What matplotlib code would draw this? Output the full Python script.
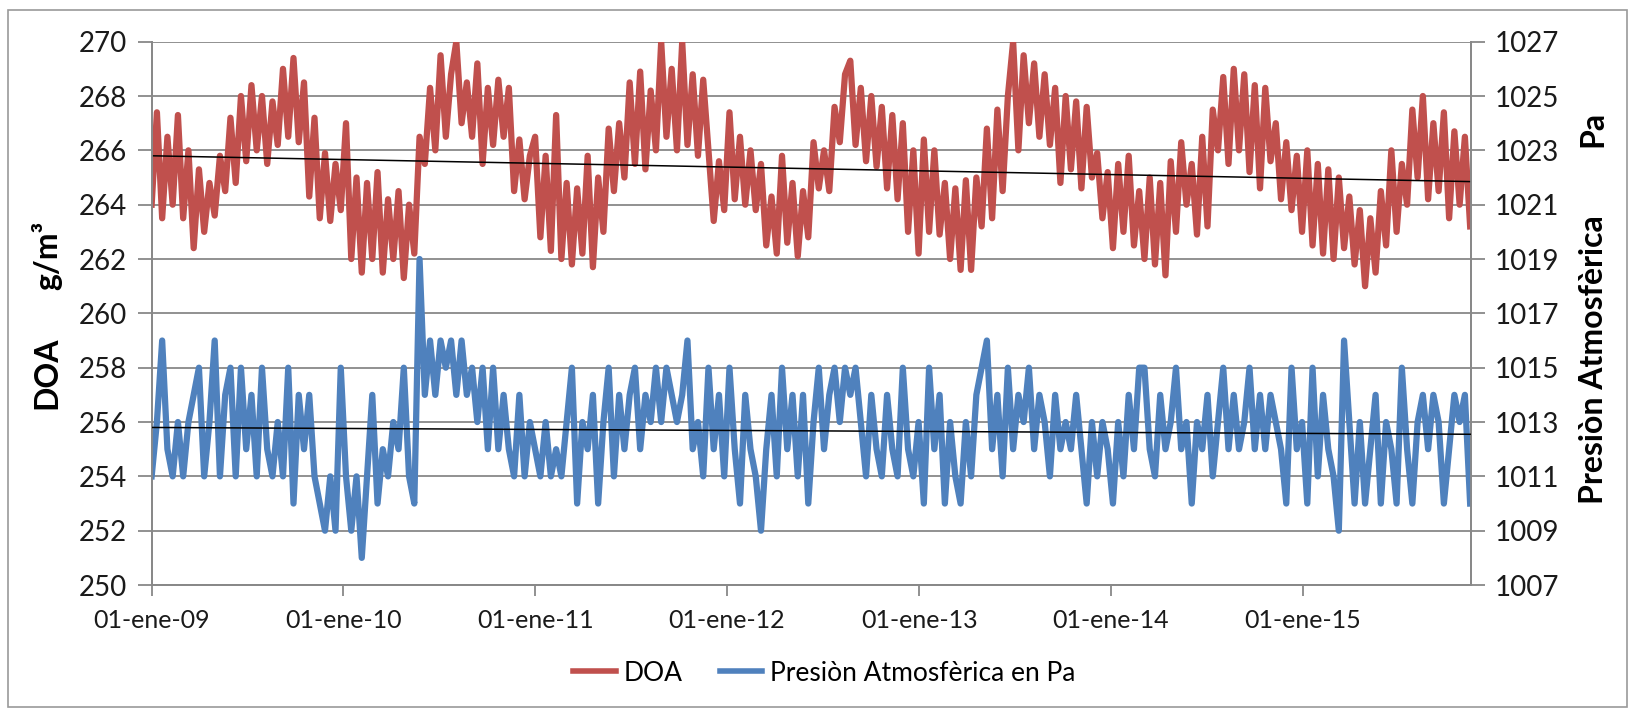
import matplotlib
matplotlib.use("Agg")
import matplotlib.pyplot as plt
import matplotlib.patches as mpatches
import numpy as np
import pandas as pd

plt.rcParams['font.family'] = ['Lato', 'DejaVu Sans']

# ─── datos (muestras cada 10 días) ───
doa_2009 = [264.0, 267.4, 263.5, 266.5, 264.0, 267.3, 263.5, 266.0, 262.4, 265.3, 263.0, 264.8,
            263.6, 265.8, 264.5, 267.2, 264.8, 268.0, 265.6, 268.4, 266.0, 268.0, 265.5, 267.8,
            266.2, 269.0, 266.5, 269.4, 266.3, 268.5, 264.3, 267.2, 263.5, 265.9, 263.4, 265.5, 263.8]
doa_2010 = [267.0, 262.0, 265.0, 261.5, 264.8, 262.0, 265.2, 261.5, 264.2, 262.0, 264.5, 261.3,
            264.0, 262.2, 266.5, 265.5, 268.3, 266.0, 269.5, 266.5, 268.8, 270.0, 267.0, 268.5,
            266.5, 269.2, 265.5, 268.3, 266.2, 268.6, 266.5, 268.3, 264.5, 266.4, 264.2, 265.8]
doa_2011 = [266.5, 262.8, 265.8, 262.3, 267.3, 262.0, 264.8, 261.8, 264.6, 262.2, 265.8, 261.7,
            265.0, 263.0, 266.8, 264.5, 267.0, 265.0, 268.5, 265.5, 268.9, 265.3, 268.2, 266.0,
            270.0, 266.5, 269.0, 266.0, 270.0, 266.2, 268.8, 265.8, 268.6, 266.0, 263.4, 265.6, 263.8]
doa_2012 = [267.4, 264.2, 266.5, 264.0, 266.0, 263.8, 265.5, 262.5, 264.3, 262.2, 265.8, 262.6,
            264.8, 262.1, 264.5, 262.8, 266.3, 264.6, 266.0, 264.5, 267.6, 266.3, 268.8, 269.3,
            266.2, 268.3, 265.6, 268.0, 265.4, 267.6, 264.6, 267.3, 264.2, 267.0, 263.0, 266.0, 262.2]
doa_2013 = [266.4, 263.0, 266.0, 262.9, 264.8, 262.0, 264.6, 261.6, 264.9, 261.6, 265.0, 263.2,
            266.8, 263.5, 267.5, 264.5, 268.0, 270.0, 266.0, 269.5, 267.0, 269.2, 266.5, 268.8,
            266.2, 268.3, 264.8, 268.0, 265.3, 267.8, 264.6, 267.6, 265.0, 265.9, 263.5, 265.2]
doa_2014 = [262.4, 265.5, 263.0, 265.8, 262.5, 264.5, 262.0, 265.0, 261.8, 264.8, 261.4, 265.6,
            263.0, 266.3, 264.0, 265.5, 262.9, 266.5, 263.2, 267.5, 266.0, 268.7, 265.5, 269.0,
            266.0, 268.8, 265.2, 268.4, 264.6, 268.3, 265.6, 267.0, 264.2, 266.3, 263.8, 265.8]
doa_2015 = [263.0, 266.0, 262.5, 265.5, 262.2, 265.3, 262.0, 265.0, 262.4, 264.3, 261.8, 263.8,
            261.0, 263.5, 261.5, 264.5, 262.5, 266.0, 263.0, 265.5, 264.0, 267.5, 265.0, 268.0,
            264.2, 267.0, 264.5, 267.4, 263.5, 266.7, 264.0, 266.5, 263.2]

pres_2009 = [1011, 1013, 1016, 1012, 1011, 1013, 1011, 1013, 1014, 1015, 1011, 1013, 1016, 1011,
             1014, 1015, 1011, 1015, 1012, 1014, 1011, 1015, 1012, 1011, 1013, 1011, 1015, 1010,
             1014, 1012, 1014, 1011, 1010, 1009, 1011, 1009, 1015]
pres_2010 = [1011, 1009, 1011, 1008, 1011, 1014, 1010, 1012, 1011, 1013, 1012, 1015, 1011, 1010,
             1019, 1014, 1016, 1014, 1016, 1015, 1016, 1014, 1016, 1014, 1015, 1013, 1015, 1012,
             1015, 1012, 1014, 1012, 1011, 1014, 1011, 1013]
pres_2011 = [1012, 1011, 1013, 1011, 1012, 1011, 1013, 1015, 1010, 1013, 1012, 1014, 1010, 1013,
             1015, 1011, 1014, 1012, 1014, 1015, 1012, 1014, 1013, 1015, 1013, 1015, 1014, 1013,
             1014, 1016, 1012, 1013, 1011, 1015, 1012, 1014, 1011]
pres_2012 = [1015, 1012, 1010, 1014, 1012, 1011, 1009, 1012, 1014, 1011, 1015, 1012, 1014, 1011,
             1014, 1010, 1013, 1015, 1012, 1014, 1015, 1013, 1015, 1014, 1015, 1013, 1011, 1014,
             1012, 1011, 1014, 1012, 1011, 1015, 1012, 1011, 1013]
pres_2013 = [1010, 1015, 1012, 1014, 1010, 1013, 1011, 1010, 1013, 1011, 1014, 1015, 1016, 1012,
             1014, 1011, 1015, 1012, 1014, 1013, 1015, 1012, 1014, 1013, 1011, 1014, 1012, 1013,
             1012, 1014, 1012, 1010, 1013, 1011, 1013, 1012]
pres_2014 = [1010, 1013, 1011, 1014, 1012, 1015, 1015, 1012, 1011, 1014, 1012, 1013, 1015, 1012,
             1013, 1010, 1013, 1012, 1014, 1011, 1013, 1015, 1012, 1014, 1012, 1013, 1015, 1012,
             1014, 1012, 1014, 1013, 1012, 1010, 1015, 1012]
pres_2015 = [1013, 1010, 1015, 1011, 1014, 1012, 1011, 1009, 1016, 1013, 1010, 1013, 1010, 1012,
             1014, 1010, 1013, 1012, 1010, 1015, 1012, 1010, 1013, 1014, 1012, 1014, 1013, 1010,
             1012, 1014, 1013, 1014, 1010]

# líneas de tendencia (valor al inicio y al final)
trend_doa = [265.8, 264.85]
trend_pres = [1012.8, 1012.55]

xtick_dates = ['2009-01-01', '2010-01-01', '2011-01-01', '2012-01-01',
               '2013-01-01', '2014-01-01', '2015-01-01']
xtick_labels = ['01-ene-09', '01-ene-10', '01-ene-11', '01-ene-12',
                '01-ene-13', '01-ene-14', '01-ene-15']

doa = np.concatenate([doa_2009, doa_2010, doa_2011, doa_2012, doa_2013, doa_2014, doa_2015])
pres = np.concatenate([pres_2009, pres_2010, pres_2011, pres_2012, pres_2013, pres_2014, pres_2015])
dates = pd.date_range('2009-01-01', periods=len(doa), freq='10D')
x_end = pd.Timestamp('2015-11-17')

RED = '#C0504D'
BLUE = '#4F81BD'
GRID = '#888888'

fig = plt.figure(figsize=(16.29, 7.10), dpi=100)
ax = fig.add_axes([0.0931, 0.176, 0.8097, 0.7653])
ax2 = ax.twinx()

l_red, = ax.plot(dates, doa, color=RED, lw=4.5, zorder=2)
ax.plot([dates[0], x_end], trend_doa, color='black', lw=1.1, zorder=3)
l_blue, = ax2.plot(dates, pres, color=BLUE, lw=4.5, zorder=2)
ax2.plot([dates[0], x_end], trend_pres, color='black', lw=1.1, zorder=3)

ax.set_xlim(pd.Timestamp('2009-01-01'), x_end)
ax.set_ylim(250, 270)
ax.set_yticks(np.arange(250, 271, 2))
ax2.set_ylim(1007, 1027)
ax2.set_yticks(np.arange(1007, 1028, 2))
ax.set_xticks(pd.to_datetime(xtick_dates))
ax.set_xticklabels(xtick_labels)

ax.set_axisbelow(True)
ax.yaxis.grid(True, color=GRID, lw=1.3)
for a in (ax, ax2):
    for s in a.spines.values():
        s.set_color(GRID)
        s.set_linewidth(1.3)
ax.spines['top'].set_visible(False)
ax2.spines['top'].set_visible(False)

ax.tick_params(axis='y', length=10, width=1.3, color=GRID, labelsize=20, pad=8, labelcolor='#1a1a1a')
ax2.tick_params(axis='y', length=10, width=1.3, color=GRID, labelsize=20, pad=7, labelcolor='#1a1a1a')
ax.tick_params(axis='x', length=8, width=1.3, color=GRID, labelsize=18, pad=9, labelcolor='#1a1a1a')

fig.text(0.029, 0.475, 'DOA', rotation=90, fontsize=23, fontweight='bold', ha='center', va='center')
fig.text(0.029, 0.64, 'g/m³', rotation=90, fontsize=23, fontweight='bold', ha='center', va='center')
fig.text(0.978, 0.493, 'Presiòn Atmosfèrica', rotation=90, fontsize=23, fontweight='bold', ha='center', va='center')
fig.text(0.978, 0.818, 'Pa', rotation=90, fontsize=23, fontweight='bold', ha='center', va='center')

leg = fig.legend([l_red, l_blue], ['DOA', 'Presiòn Atmosfèrica en Pa'], loc='center',
                 bbox_to_anchor=(0.506, 0.052), ncol=2, frameon=False, fontsize=19,
                 handlelength=1.6, handletextpad=0.3, columnspacing=1.4)
for h in leg.get_lines():
    h.set_linewidth(4)

# marco exterior del gráfico
fig.patches.append(mpatches.Rectangle((0.005, 0.004), 0.994, 0.982, transform=fig.transFigure,
                                      fill=False, edgecolor='#9a9a9a', lw=1.2))

plt.savefig('out.png', dpi=100)
